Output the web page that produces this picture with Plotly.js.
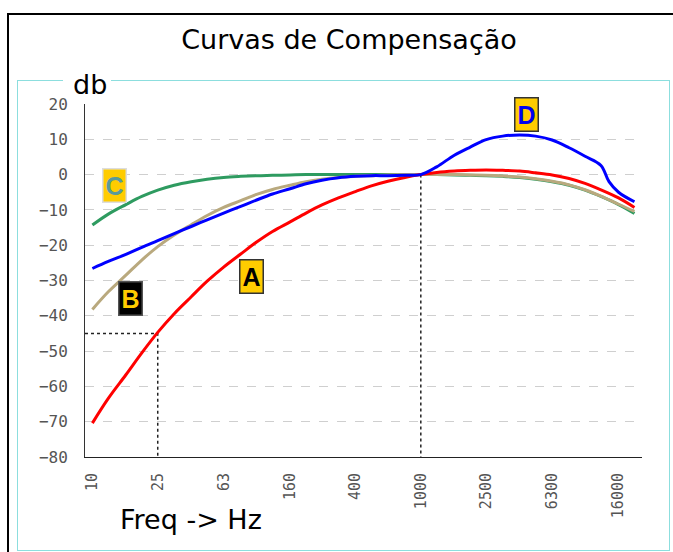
<!DOCTYPE html>
<html>
<head>
<meta charset="utf-8">
<script src="https://cdn.plot.ly/plotly-3.0.1.min.js"></script>
<style>
  html, body { margin: 0; padding: 0; background: #ffffff; overflow: hidden; }
  #frameBlack { position: absolute; left: 7px; top: 13px; width: 720px; height: 600px;
                border-left: 2px solid #000; border-top: 2px solid #000; }
  #frameCyan { position: absolute; left: 17px; top: 80px; width: 651px; height: 469px;
               border: 1.5px solid #8cdede; }
  #gap { position: absolute; left: 63px; top: 77px; width: 48px; height: 8px; background: #fff; }
  #chart { position: absolute; left: 0; top: 0; width: 673px; height: 552px; }
</style>
</head>
<body>
<div id="frameBlack"></div>
<div id="frameCyan"></div>
<div id="gap"></div>
<div id="chart"></div>
<script>
// Frequencies (Hz) shared by curves A, B and C
const freq = [10,12.5,16,20,25,31.5,40,50,63,80,100,125,160,200,250,315,400,500,630,800,
              1000,1250,1600,2000,2500,3150,4000,5000,6300,8000,10000,12500,16000,20000];
// Curve A (dB)
const curveA = [-70.4,-63.4,-56.7,-50.5,-44.7,-39.4,-34.6,-30.2,-26.2,-22.5,-19.1,-16.1,-13.4,-10.9,-8.6,-6.6,-4.8,-3.2,-1.9,-0.8,
                0,0.6,1.0,1.2,1.3,1.2,1.0,0.5,-0.1,-1.1,-2.5,-4.3,-6.6,-9.3];
// Curve B (dB)
const curveB = [-38.2,-33.2,-28.5,-24.2,-20.4,-17.1,-14.2,-11.6,-9.3,-7.4,-5.6,-4.2,-3.0,-2.0,-1.3,-0.8,-0.5,-0.3,-0.1,0,
                0,0,0,-0.1,-0.2,-0.4,-0.7,-1.2,-1.9,-2.9,-4.3,-6.1,-8.4,-10.4];
// Curve C (dB)
const curveC = [-14.3,-11.2,-8.5,-6.2,-4.4,-3.0,-2.0,-1.3,-0.8,-0.5,-0.3,-0.2,-0.1,0,0,0,0,0,0,0,
                0,0,-0.1,-0.2,-0.3,-0.5,-0.8,-1.3,-2.0,-3.0,-4.4,-6.2,-8.5,-11.0];
// Curve D: its own frequency list (Hz) and values (dB)
const freqD = [10,12.5,16,20,25,31.5,40,50,63,80,100,125,160,200,250,315,400,500,630,800,
               1000,1250,1600,2000,2500,3150,4000,5000,6300,8000,10000,12500,14000,16000,20000];
const curveD = [-26.6,-24.6,-22.6,-20.6,-18.7,-16.7,-14.7,-12.8,-10.9,-9.0,-7.2,-5.5,-4.0,-2.6,-1.6,-0.9,-0.5,-0.3,-0.3,-0.2,
                0,2.2,5.5,7.8,9.9,10.9,11.2,10.9,9.8,7.6,5.2,2.6,-2.0,-5.0,-7.7];
// Dotted guide lines: frequency / level pairs
const guideFreq = [25, 1000];
const guideLevel = [-45, 0];
// Axis ticks
const xTickVals = [10,25,63,160,400,1000,2500,6300,16000];
const xTickText = ['10','25','63','160','400','1000','2500','6300','16000'];
// Curve labels
const labelText = ['A','B','C','D'];

const xRangeLog = [0.955, 4.347];
const yRange = [-80, 20];
const xMin = Math.pow(10, xRangeLog[0]);

const lineW = 3;
const traces = [];
// guide lines
traces.push({x:[xMin, guideFreq[0], guideFreq[0]], y:[guideLevel[0], guideLevel[0], yRange[0]],
  mode:'lines', line:{color:'#222', width:1.5, dash:'dot'}, hoverinfo:'skip'});
traces.push({x:[guideFreq[1], guideFreq[1]], y:[guideLevel[1], yRange[0]],
  mode:'lines', line:{color:'#222', width:1.5, dash:'dot'}, hoverinfo:'skip'});
traces.push({x:freq, y:curveC, mode:'lines', name:'C', line:{color:'#2e9b60', width:lineW, shape:'spline'}});
traces.push({x:freq, y:curveB, mode:'lines', name:'B', line:{color:'#b9a97e', width:lineW, shape:'spline'}});
traces.push({x:freq, y:curveA, mode:'lines', name:'A', line:{color:'#ff0000', width:lineW, shape:'spline'}});
traces.push({x:freqD, y:curveD, mode:'lines', name:'D', line:{color:'#0000ff', width:lineW, shape:'spline'}});

const boxFont = {family:'Liberation Sans, Arial, sans-serif', size:25};
const annotations = [
  {xref:'x', yref:'y', x:1.966, y:-28.8, text:'<b>'+labelText[0]+'</b>', showarrow:false,
   font:Object.assign({}, boxFont, {color:'#000'}), bgcolor:'#ffcc00', bordercolor:'#333', borderwidth:1.5, borderpad:2},
  {xref:'x', yref:'y', x:1.235, y:-35.2, text:'<b>'+labelText[1]+'</b>', showarrow:false,
   font:Object.assign({}, boxFont, {color:'#ffcc00'}), bgcolor:'#000', bordercolor:'#555', borderwidth:1.5, borderpad:2},
  {xref:'x', yref:'y', x:1.132, y:-3.1, text:'<b>'+labelText[2]+'</b>', showarrow:false,
   font:Object.assign({}, boxFont, {color:'#5a9a9a'}), bgcolor:'#ffcc00', bordercolor:'#ddd', borderwidth:1.5, borderpad:2},
  {xref:'x', yref:'y', x:3.641, y:17.0, text:'<b>'+labelText[3]+'</b>', showarrow:false,
   font:Object.assign({}, boxFont, {color:'#0000ee'}), bgcolor:'#ffcc00', bordercolor:'#333', borderwidth:1.5, borderpad:2},
  {xref:'paper', yref:'paper', x:0.009, y:1.054, xanchor:'center', yanchor:'middle', text:'db', showarrow:false,
   font:{family:'DejaVu Sans', size:27, color:'#000'}},
  {xref:'paper', yref:'paper', x:0.19, y:-0.178, xanchor:'center', yanchor:'middle', text:'Freq -> Hz', showarrow:false,
   font:{family:'DejaVu Sans', size:27, color:'#000'}}
];

const layout = {
  width:673, height:552,
  margin:{l:85, r:31, t:104, b:95},
  paper_bgcolor:'rgba(0,0,0,0)', plot_bgcolor:'rgba(0,0,0,0)',
  showlegend:false,
  title:{text:'Curvas de Compensação', x:0.5186, xref:'container', xanchor:'center',
         y:0.9275, yref:'container', yanchor:'middle',
         font:{family:'DejaVu Sans', size:27, color:'#000'}},
  xaxis:{type:'log', range:xRangeLog, tickvals:xTickVals, ticktext:xTickText, tickangle:-90,
         showgrid:false, zeroline:false, showline:true, linecolor:'#222', linewidth:1,
         ticks:'', ticklabelstandoff:9,
         tickfont:{family:'DejaVu Sans Mono', size:15, color:'#555'}, fixedrange:true},
  yaxis:{range:yRange, dtick:10, tick0:0, showgrid:true, gridcolor:'#cfcfcf', griddash:'dash', gridwidth:1,
         zeroline:false, showline:true, linecolor:'#333', linewidth:1, ticks:'', ticklabelstandoff:13,
         tickfont:{family:'DejaVu Sans Mono', size:16, color:'#555'}, fixedrange:true},
  annotations:annotations
};

Plotly.newPlot('chart', traces, layout, {displayModeBar:false, staticPlot:true});
</script>
</body>
</html>
